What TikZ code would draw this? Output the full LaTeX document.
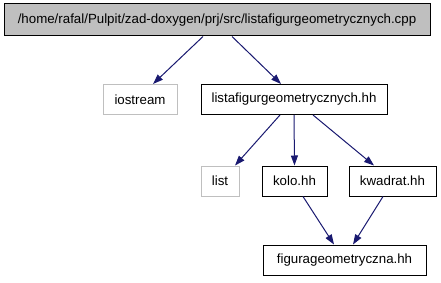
\documentclass[tikz,border=0pt]{standalone}
\usepackage{fontspec}
\setmainfont{Liberation Sans}
\usetikzlibrary{arrows.meta}
\definecolor{edgeblue}{RGB}{ 25, 25,112}
\definecolor{boxgray} {RGB}{191,191,191}
\tikzset{
  hdr/.style ={rectangle,draw=black,line width=1pt,inner sep=0pt,
               minimum height=30pt,font=\fontsize{13.3}{15}\selectfont},
  srcf/.style={hdr,fill=boxgray,minimum height=32pt},
  sys/.style ={hdr,draw=boxgray},
  dep/.style ={-{Triangle[length=10pt,width=7pt]},line width=1pt,color=edgeblue},
}

\begin{document}
\begin{tikzpicture}[x=1pt,y=-1pt]
  \useasboundingbox (0,0) rectangle (441,283);
  % nodes
  \node[srcf,minimum width=426pt] (cpp)  at (217,20)
       {/home/rafal/Pulpit/zad-doxygen/prj/src/listafigurgeometrycznych.cpp};
  \node[sys, minimum width=74pt]  (ios)  at (140,99.5) {iostream};
  \node[hdr, minimum width=186pt] (lista) at (294,99.5) {listafigurgeometrycznych.hh};
  \node[sys, minimum width=38pt]  (lst)  at (220,181) {list};
  \node[hdr, minimum width=65pt]  (kolo) at (294.5,181) {kolo.hh};
  \node[hdr, minimum width=87pt]  (kwad) at (392.5,181) {kwadrat.hh};
  \node[hdr, minimum width=163pt] (fig)  at (344.5,260) {figurageometryczna.hh};
  % includes of the .cpp
  \draw[dep] ([xshift=-14pt]cpp.south) -- ([xshift=13pt]ios.north);
  \draw[dep] ([xshift=15pt]cpp.south)  -- ([xshift=-13pt]lista.north);
  % includes of listafigurgeometrycznych.hh
  \draw[dep] ([xshift=-14pt]lista.south) -- ([xshift=15pt]lst.north);
  \draw[dep] (lista.south) -- (kolo.north);
  \draw[dep] ([xshift=19pt]lista.south) -- ([xshift=-18.5pt]kwad.north);
  % both shapes pull in the base class
  \draw[dep] ([xshift=8.5pt]kolo.south) -- ([xshift=-10.5pt]fig.north);
  \draw[dep] ([xshift=-9.5pt]kwad.south) -- ([xshift=8.5pt]fig.north);
\end{tikzpicture}
\end{document}
